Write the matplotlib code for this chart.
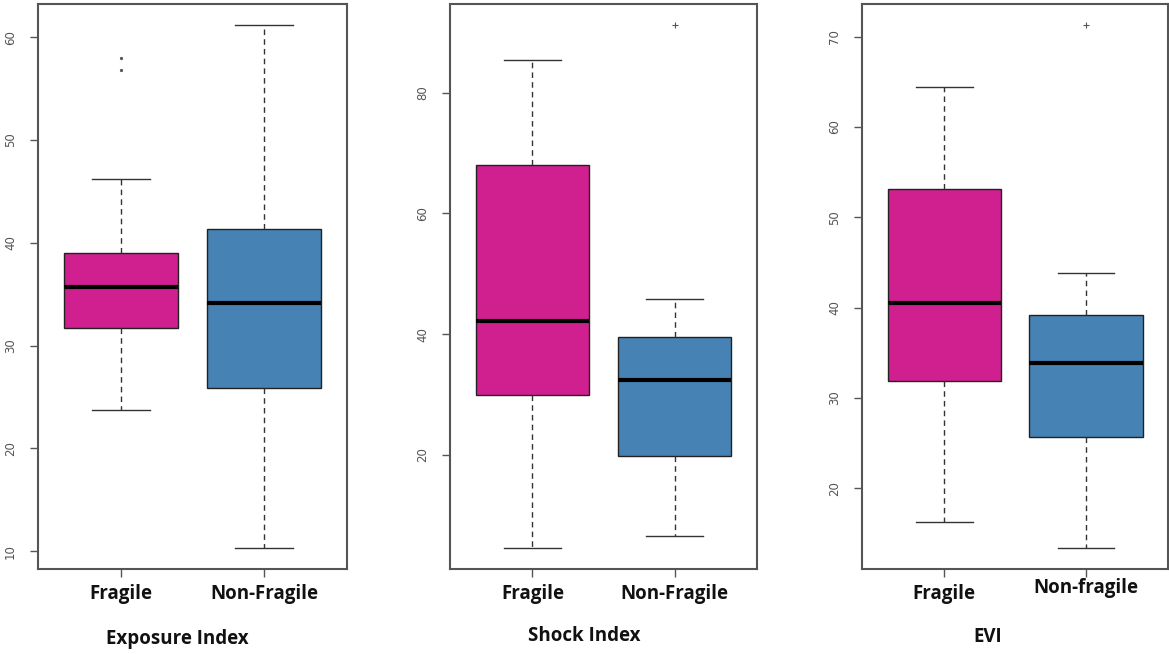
#!/usr/bin/env python3

import matplotlib
matplotlib.use('Agg')
import matplotlib.pyplot as plt
from matplotlib.transforms import ScaledTranslation

GROUPS = ['Fragile', 'Non-Fragile']

# five-number summaries: whislo, q1, med, q3, whishi
EXPOSURE_FRAGILE = [23.7, 31.7, 35.7, 39.0, 46.2]
EXPOSURE_NONFRAGILE = [10.3, 25.9, 34.1, 41.3, 61.2]
EXPOSURE_OUTLIERS = [[58.0, 56.8], []]

SHOCK_FRAGILE = [4.6, 29.9, 42.2, 68.0, 85.4]
SHOCK_NONFRAGILE = [6.6, 19.9, 32.4, 39.6, 45.9]
SHOCK_OUTLIERS = [[], [91.2]]

EVI_FRAGILE = [16.3, 31.9, 40.5, 53.1, 64.4]
EVI_NONFRAGILE = [13.4, 25.7, 33.9, 39.2, 43.8]
EVI_OUTLIERS = [[], [71.3]]

EXPOSURE_TICKS = [10, 20, 30, 40, 50, 60]
SHOCK_TICKS = [20, 40, 60, 80]
EVI_TICKS = [20, 30, 40, 50, 60, 70]

PANELS = [
    ('Exposure Index', [EXPOSURE_FRAGILE, EXPOSURE_NONFRAGILE], EXPOSURE_OUTLIERS,
     EXPOSURE_TICKS, ['Fragile', 'Non-Fragile'], '.'),
    ('Shock Index', [SHOCK_FRAGILE, SHOCK_NONFRAGILE], SHOCK_OUTLIERS,
     SHOCK_TICKS, ['Fragile', 'Non-Fragile'], '+'),
    ('EVI', [EVI_FRAGILE, EVI_NONFRAGILE], EVI_OUTLIERS,
     EVI_TICKS, ['Fragile', 'Non-fragile'], '+'),
]

COLORS = ['#D02090', '#4682B4']

# axes rectangles in figure pixels (left, right)
W, H = 1169, 654
AX_X = [(38, 347), (450, 757), (862, 1168)]
AX_TOP, AX_BOTTOM = 4, 569
TITLE_POS = [(177, 639), (584, 636), (988, 637)]


def make_stats(summary, fliers):
    lo, q1, med, q3, hi = summary
    return dict(whislo=lo, q1=q1, med=med, q3=q3, whishi=hi, fliers=fliers)


fig = plt.figure(figsize=(W / 100, H / 100), dpi=100)

for i, (title, summaries, outliers, ticks, labels, marker) in enumerate(PANELS):
    x0, x1 = AX_X[i]
    ax = fig.add_axes([x0 / W, 1 - AX_BOTTOM / H, (x1 - x0) / W, (AX_BOTTOM - AX_TOP) / H])

    stats = [make_stats(s, o) for s, o in zip(summaries, outliers)]
    bp = ax.bxp(stats, positions=[1, 2], widths=0.8, patch_artist=True,
                boxprops=dict(edgecolor='#222222', linewidth=1.0),
                whiskerprops=dict(color='#333333', linewidth=1.0, linestyle=(0, (4, 3))),
                capprops=dict(color='#333333', linewidth=1.0),
                medianprops=dict(color='black', linewidth=3.0, solid_capstyle='butt'),
                flierprops=dict(marker=marker, markersize=3 if marker == '.' else 4,
                                markerfacecolor='#555555', markeredgecolor='#555555',
                                markeredgewidth=0.8, linestyle='none'))
    for patch, c in zip(bp['boxes'], COLORS):
        patch.set_facecolor(c)

    # R style 4% padding around the data range
    vals = [v for s in summaries for v in s] + [v for o in outliers for v in o]
    lo, hi = min(vals), max(vals)
    pad = 0.04 * (hi - lo)
    ax.set_ylim(lo - pad, hi + pad)
    ax.set_xlim(0.42, 2.58)

    ax.set_yticks(ticks)
    ax.set_yticklabels([str(t) for t in ticks], rotation=90, va='center',
                       fontsize=8.5, color='#555555')
    ax.set_xticks([1, 2])
    ax.set_xticklabels(labels, fontsize=13.5, fontweight='bold', family='Open Sans',
                       color='#111111')
    ax.tick_params(axis='y', length=6, width=1, color='#555555', pad=9)
    ax.tick_params(axis='x', length=6, width=1, color='#555555', pad=5)

    for sp in ax.spines.values():
        sp.set_color('#555555')
        sp.set_linewidth(1.5)

    tx, ty = TITLE_POS[i]
    fig.text(tx / W, 1 - ty / H, title, ha='center', va='center', fontsize=13.5,
             fontweight='bold', family='Open Sans', color='#111111')

    # the right-hand label of the last panel sits a little higher
    if i == 2:
        lab = ax.get_xticklabels()[1]
        lab.set_transform(lab.get_transform() + ScaledTranslation(0, 6 / 100, fig.dpi_scale_trans))

fig.savefig('out.png', dpi=100)
